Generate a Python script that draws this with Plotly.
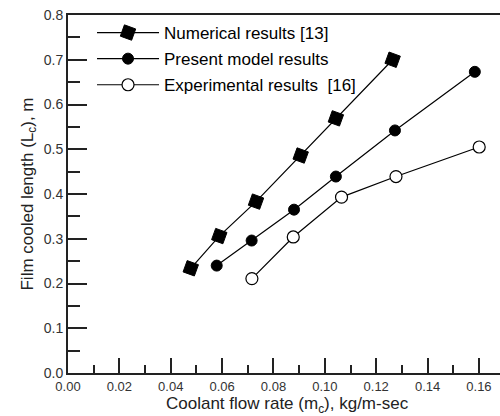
import plotly.graph_objects as go

# Data
num_x = [0.0478, 0.0589, 0.0732, 0.0906, 0.1043, 0.1264]
num_y = [0.234, 0.306, 0.383, 0.486, 0.569, 0.700]

model_x = [0.0579, 0.0715, 0.0880, 0.1043, 0.1273, 0.1584]
model_y = [0.240, 0.296, 0.365, 0.439, 0.542, 0.673]

exp_x = [0.0716, 0.0877, 0.1065, 0.1277, 0.1601]
exp_y = [0.211, 0.304, 0.393, 0.439, 0.505]

names = ["Numerical results [13]", "Present model results", "Experimental results  [16]"]

x_ticks = [0.00, 0.02, 0.04, 0.06, 0.08, 0.10, 0.12, 0.14, 0.16]
y_ticks = [0.0, 0.1, 0.2, 0.3, 0.4, 0.5, 0.6, 0.7, 0.8]

FONT = "Arial, Liberation Sans, sans-serif"

fig = go.Figure()
fig.add_trace(go.Scatter(
    x=num_x, y=num_y, mode="lines+markers", name=names[0], legendgroup="a",
    line=dict(color="black", width=1.2),
    marker=dict(symbol="square", size=12, color="black", angle=20,
                line=dict(color="black", width=1))))
fig.add_trace(go.Scatter(
    x=model_x, y=model_y, mode="lines+markers", name=names[1], legendgroup="b",
    line=dict(color="black", width=1.2),
    marker=dict(symbol="circle", size=11, color="black",
                line=dict(color="black", width=1))))
fig.add_trace(go.Scatter(
    x=exp_x, y=exp_y, mode="lines+markers", name=names[2], legendgroup="c",
    line=dict(color="black", width=1.2),
    marker=dict(symbol="circle", size=12, color="white",
                line=dict(color="black", width=1.2))))

fig.update_layout(
    width=500, height=416,
    margin=dict(l=68, r=0, t=15, b=43),
    paper_bgcolor="white", plot_bgcolor="white",
    font=dict(family=FONT, color="black"),
    showlegend=True,
    legend=dict(x=0.0556, y=1.0, xanchor="left", yanchor="top",
                font=dict(size=17, family=FONT, color="black"),
                bgcolor="rgba(0,0,0,0)", traceorder="grouped",
                tracegroupgap=1, itemwidth=62),
    xaxis=dict(range=[0, 0.1682], tickvals=x_ticks,
               ticktext=[f"{v:.2f}" for v in x_ticks],
               ticks="inside", ticklen=15, tickwidth=2, tickcolor="#222",
               minor=dict(dtick=0.01, tick0=0, ticks="inside", ticklen=8,
                          tickwidth=2, tickcolor="#222", showgrid=False),
               showline=True, linewidth=2, linecolor="#222", mirror=True,
               showgrid=False, zeroline=False, ticklabelstandoff=0,
               automargin=False,
               tickfont=dict(size=13, color="#333", family=FONT)),
    yaxis=dict(range=[0, 0.8], tickvals=y_ticks,
               ticktext=[f"{v:.1f}" for v in y_ticks],
               ticks="inside", ticklen=19, tickwidth=2, tickcolor="#222",
               minor=dict(dtick=0.05, tick0=0, ticks="inside", ticklen=12,
                          tickwidth=2, tickcolor="#222", showgrid=False),
               showline=True, linewidth=2, linecolor="#222",
               showgrid=False, zeroline=False,
               tickfont=dict(size=14, color="#333", family=FONT),
               title=dict(text="Film cooled length (L<sub>c</sub>), m",
                          font=dict(size=17, family=FONT, color="#222"),
                          standoff=6)),
)

fig.add_annotation(
    text="Coolant flow rate (m<sub>c</sub>), kg/m-sec",
    xref="paper", yref="paper", x=0.508, y=(373 - 405) / 358,
    xanchor="center", yanchor="middle", showarrow=False,
    font=dict(size=17, family=FONT, color="#222"))

fig.write_html("out.html")
